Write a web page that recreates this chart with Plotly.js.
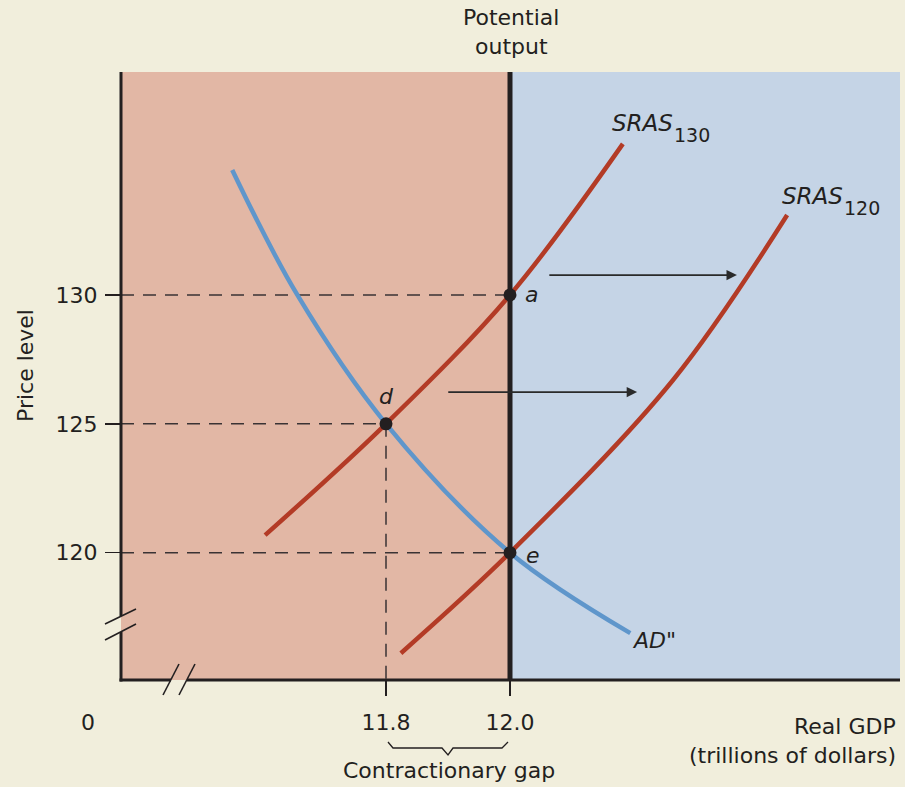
<!DOCTYPE html>
<html><head><meta charset="utf-8">
<script src="https://cdn.plot.ly/plotly-3.0.1.min.js"></script>
<style>html,body{margin:0;padding:0;background:#F1EEDC}#chart{width:905px;height:787px}</style>
</head><body><div id="chart"></div>
<script>
// ---- data ----
const potentialOutput = 12.0;
const tickValsX = [11.8, 12.0];
const tickTextX = ['11.8', '12.0'];
const tickValsY = [120, 125, 130];
const tickTextY = ['120', '125', '130'];

const adX = [11.552, 11.657, 11.8, 12.0, 12.194];
const adY = [134.85, 130.0, 125.0, 120.0, 116.88];
const sras130X = [11.605, 11.8, 12.0, 12.182];
const sras130Y = [120.68, 125.0, 130.0, 135.86];
const sras120X = [11.824, 12.0, 12.263, 12.447];
const sras120Y = [116.10, 120.0, 126.70, 133.10];

const pointLabels = ['a', 'd', 'e'];
const pointX = [12.0, 11.8, 12.0];
const pointY = [130, 125, 120];

const shiftArrowY = [130.77, 126.23];
const shiftArrowFromX = [12.061, 11.898];
const shiftArrowToX = [12.366, 12.205];

// ---- layout geometry ----
const W = 905, H = 787;
const M = {l: 121, r: 5, t: 72, b: 107};
const xRange = [11.3726, 12.629];
const yRange = [115.06, 138.65];
const pw = W - M.l - M.r, ph = H - M.t - M.b;
const px = v => (v - M.l) / pw;          // pixel -> paper x
const py = v => (H - M.b - v) / ph;      // pixel -> paper y

const INK = '#231F20';
const RED = '#B33B26';
const BLUE = '#5F96CB';
const PINK = '#E2B7A5';
const SKY = '#C5D4E6';
const CREAM = '#F1EEDC';
const FONT = 'DejaVu Sans, Liberation Sans, sans-serif';

const traces = [];
// dashed guides
pointX.forEach((x, i) => {
  traces.push({x: [xRange[0], x], y: [pointY[i], pointY[i]], mode: 'lines',
    line: {color: '#3A3334', width: 1.5, dash: '13px,9px'}, hoverinfo: 'skip', showlegend: false});
  if (x !== potentialOutput) {
    traces.push({x: [x, x], y: [pointY[i], yRange[0]], mode: 'lines',
      line: {color: '#3A3334', width: 1.5, dash: '13px,9px'}, hoverinfo: 'skip', showlegend: false});
  }
});
traces.push({x: adX, y: adY, mode: 'lines', line: {color: BLUE, width: 4.5, shape: 'spline', smoothing: 1}, showlegend: false});
traces.push({x: sras130X, y: sras130Y, mode: 'lines', line: {color: RED, width: 4.5, shape: 'spline', smoothing: 1}, showlegend: false});
traces.push({x: sras120X, y: sras120Y, mode: 'lines', line: {color: RED, width: 4.5, shape: 'spline', smoothing: 1}, showlegend: false});
traces.push({x: [potentialOutput, potentialOutput], y: yRange, mode: 'lines', line: {color: INK, width: 5}, showlegend: false});
traces.push({x: pointX, y: pointY, mode: 'markers', marker: {color: INK, size: 13}, showlegend: false});

const ann = [];
function txt(text, x, y, opts) {
  ann.push(Object.assign({text, x: px(x), y: py(y), xref: 'paper', yref: 'paper', showarrow: false,
    xanchor: 'center', yanchor: 'middle', font: {family: FONT, size: 22, color: INK}}, opts || {}));
}
txt('Potential', 511, 18);
txt('output', 511, 47);
txt('Price level', 25, 366, {textangle: -90});
txt('0', 88, 722);
txt('Contractionary gap', 449, 770);
txt('Real GDP', 898, 726, {xanchor: 'right'});
txt('(trillions of dollars)', 898, 755, {xanchor: 'right'});
txt('<i>SRAS</i>', 610, 123, {xanchor: 'left', font: {family: FONT, size: 23, color: INK}});
txt('130', 672, 135, {xanchor: 'left', font: {family: FONT, size: 19, color: INK}});
txt('<i>SRAS</i>', 780, 196, {xanchor: 'left', font: {family: FONT, size: 23, color: INK}});
txt('120', 842, 208, {xanchor: 'left', font: {family: FONT, size: 19, color: INK}});
txt('<i>AD</i>"', 630, 640, {xanchor: 'left'});
const labelOffsets = [[21, 0], [0, -27], [23, 3]];
pointLabels.forEach((l, i) => {
  ann.push({text: '<i>' + l + '</i>', x: pointX[i], y: pointY[i], xref: 'x', yref: 'y', showarrow: false,
    xshift: labelOffsets[i][0], yshift: -labelOffsets[i][1], font: {family: FONT, size: 22, color: INK}});
});
shiftArrowY.forEach((y, i) => {
  ann.push({x: shiftArrowToX[i], y: y, ax: shiftArrowFromX[i], ay: y, xref: 'x', yref: 'y', axref: 'x', ayref: 'y',
    text: '', showarrow: true, arrowhead: 2, arrowsize: 1.3, arrowwidth: 1.6, arrowcolor: '#2A2A2A', standoff: 0});
});

const shapes = [];
// background regions
shapes.push({type: 'rect', xref: 'x', yref: 'paper', x0: xRange[0], x1: potentialOutput, y0: 0, y1: 1,
  fillcolor: PINK, line: {width: 0}, layer: 'below'});
shapes.push({type: 'rect', xref: 'x', yref: 'paper', x0: potentialOutput, x1: xRange[1], y0: 0, y1: 1,
  fillcolor: SKY, line: {width: 0}, layer: 'below'});
function seg(x0, y0, x1, y1, w, c) {
  shapes.push({type: 'line', xref: 'paper', yref: 'paper', x0: px(x0), y0: py(y0), x1: px(x1), y1: py(y1),
    line: {color: c || INK, width: w}});
}
// axes with break gaps
seg(121, 72, 121, 616, 3);
seg(121, 632, 121, 681.5, 3);
seg(119.5, 680, 171, 680, 3);
seg(187, 680, 900, 680, 3);
// break marks
seg(105, 624, 136, 609, 1.6);
seg(105, 640, 136, 624, 1.6);
seg(163, 695, 179, 664, 1.6);
seg(179, 695, 195, 664, 1.6);
// brace under the gap
shapes.push({type: 'path', xref: 'paper', yref: 'paper',
  path: 'M' + [[388, 742], [393, 748], [442, 748], [448, 755], [453, 748], [502, 748], [508, 742]]
    .map((p, i) => (i ? 'L' : '') + px(p[0]) + ',' + py(p[1])).join(' '),
  line: {color: INK, width: 1.3}});

const layout = {
  width: W, height: H, margin: Object.assign({pad: 0}, M),
  paper_bgcolor: CREAM, plot_bgcolor: SKY,
  font: {family: FONT, size: 22, color: INK},
  xaxis: {range: xRange, showgrid: false, zeroline: false, showline: false, ticks: 'outside', ticklen: 15,
    tickwidth: 1.5, tickcolor: INK, tickvals: tickValsX, ticktext: tickTextX, ticklabelstandoff: 8,
    tickfont: {family: FONT, size: 22, color: INK}, fixedrange: true},
  yaxis: {range: yRange, showgrid: false, zeroline: false, showline: false, ticks: 'outside', ticklen: 15,
    tickwidth: 1.5, tickcolor: INK, tickvals: tickValsY, ticktext: tickTextY, ticklabelstandoff: 3,
    tickfont: {family: FONT, size: 22, color: INK}, fixedrange: true},
  annotations: ann, shapes: shapes, showlegend: false
};
Plotly.newPlot('chart', traces, layout, {displayModeBar: false, staticPlot: true});
</script></body></html>
